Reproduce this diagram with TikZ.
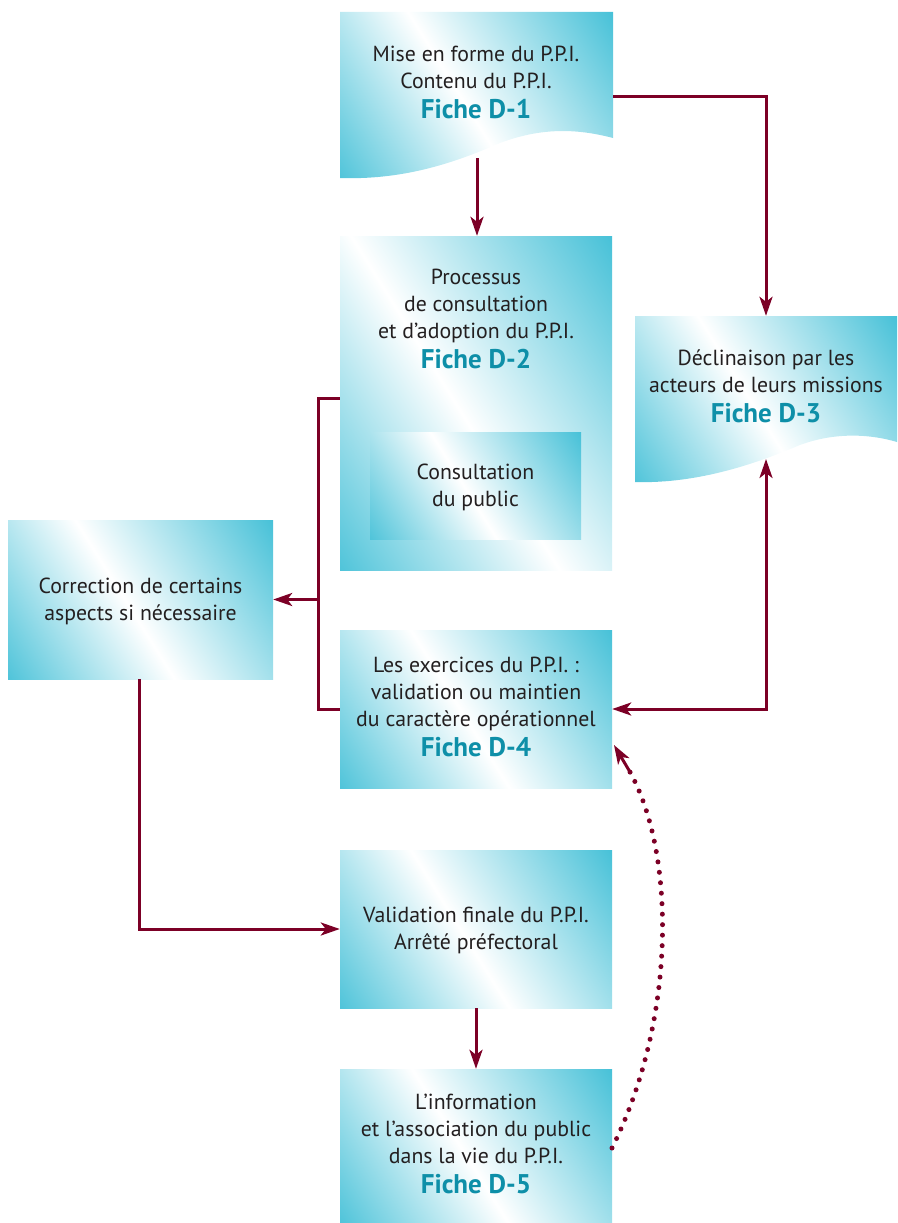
\documentclass[tikz,border=0pt]{standalone}
\usepackage{fontspec}
\setmainfont{PT Sans}
\usetikzlibrary{arrows.meta}
\definecolor{boxcyan}{RGB}{44,184,210}
\definecolor{fichecol}{RGB}{14,143,168}
\definecolor{arrowred}{RGB}{124,0,38}
\definecolor{txt}{RGB}{35,31,32}
\pgfdeclarehorizontalshading{cwc}{100bp}{color(0bp)=(boxcyan); color(9bp)=(boxcyan); color(47bp)=(white); color(90bp)=(boxcyan); color(100bp)=(boxcyan)}
\newcommand{\fiche}[1]{{\fontsize{27}{27}\selectfont\bfseries\color{fichecol}Fiche #1}}
\tikzset{
  grad/.style={shading=cwc, shading angle=32},
  gbox/.style={grad, rectangle, inner sep=0pt},
  boxtext/.style={align=center, font=\fontsize{21.8}{27}\selectfont, text=txt, inner sep=0pt},
  anch/.style={rectangle, inner sep=0pt},
  tip/.tip={Stealth[length=19pt,width=13pt,inset=5pt]},
  flow/.style={draw=arrowred, line width=3pt, -tip},
  flowtwo/.style={draw=arrowred, line width=3pt, tip-tip},
  plain/.style={draw=arrowred, line width=3pt},
  dots/.style={draw=arrowred, line width=5pt, line cap=round, dash pattern=on 0pt off 10.5pt},
}
\begin{document}
\begin{tikzpicture}[x=1pt,y=-1pt]
\useasboundingbox (0,0) rectangle (897,1223);
% wavy boxes
\path[grad] (340,12) -- (613,12) -- (613,138) .. controls (575,128) and (540,128) .. (500,143) .. controls (450,165) and (400,180) .. (340,178) -- cycle;
\node[anch, minimum width=273pt, minimum height=168pt] (d1) at (476.5,96) {};
\coordinate (d1b) at (477,158);
\node[boxtext] (t1) at (476,82) {Mise en forme du P.P.I.\\Contenu du P.P.I.\\[3pt]\fiche{D-1}};

\path[grad] (635,316) -- (897,316) -- (897,442) .. controls (870,434) and (835,432) .. (800,445) .. controls (760,462) and (700,484) .. (635,482) -- cycle;
\node[anch, minimum width=262pt, minimum height=169pt] (d3) at (766,400.5) {};
\coordinate (d3b) at (766,459);
\node[boxtext] (t3) at (766,386) {Déclinaison par les\\acteurs de leurs missions\\[3pt]\fiche{D-3}};

% rectangular boxes
\node[gbox, minimum width=272pt, minimum height=334pt] (d2) at (476,403) {};
\node[boxtext] (t2) at (476,319) {Processus\\de consultation\\et d’adoption du P.P.I.\\[3pt]\fiche{D-2}};
\node[gbox, minimum width=211pt, minimum height=107pt] (inner) at (475.5,485.5) {};
\node[boxtext] (ti) at (475.5,487) {Consultation\\du public};

\node[gbox, minimum width=265pt, minimum height=159pt] (corr) at (140.5,599.5) {};
\node[boxtext] (tc) at (140.5,601) {Correction de certains\\aspects si nécessaire};

\node[gbox, minimum width=272pt, minimum height=158pt] (d4) at (476,709) {};
\node[boxtext] (t4) at (476,707) {Les exercices du P.P.I. :\\validation ou maintien\\du caractère opérationnel\\[3pt]\fiche{D-4}};

\node[gbox, minimum width=272pt, minimum height=158pt] (val) at (476,929) {};
\node[boxtext] (tv) at (476,930) {Validation finale du P.P.I.\\Arrêté préfectoral};

\node[gbox, minimum width=272pt, minimum height=154pt] (d5) at (476,1146) {};
\node[boxtext] (t5) at (476,1144) {L’information\\et l’association du public\\dans la vie du P.P.I.\\[3pt]\fiche{D-5}};

% connectors
\draw[flow] (d1b) -- (d2.north -| d1b);
\draw[flow] (d1.east) -- (d1.east -| d3.north) -- (d3.north);
\draw[flowtwo] (d3b) -- (d3b |- d4.east) -- (d4.east);
\coordinate (brk) at (318,0);
\draw[plain] ([yshift=5pt]d2.west) -- ([yshift=5pt]d2.west -| brk) -- (d4.west -| brk) -- (d4.west);
\draw[flow] (corr.east -| brk) -- (corr.east);
\coordinate (cb) at (139,0);
\draw[flow] (corr.south -| cb) -- (val.west -| cb) -- (val.west);
\draw[flow] (val.south) -- (d5.north);
\coordinate (d5r) at (612,1148);
\coordinate (d4r) at (614,745);
\draw[dots] (d5r) .. controls (676,1020) and (676,855) .. (630,772);
\draw[draw=arrowred, line width=3pt, -tip] (630,772) -- (d4r);
\end{tikzpicture}
\end{document}
